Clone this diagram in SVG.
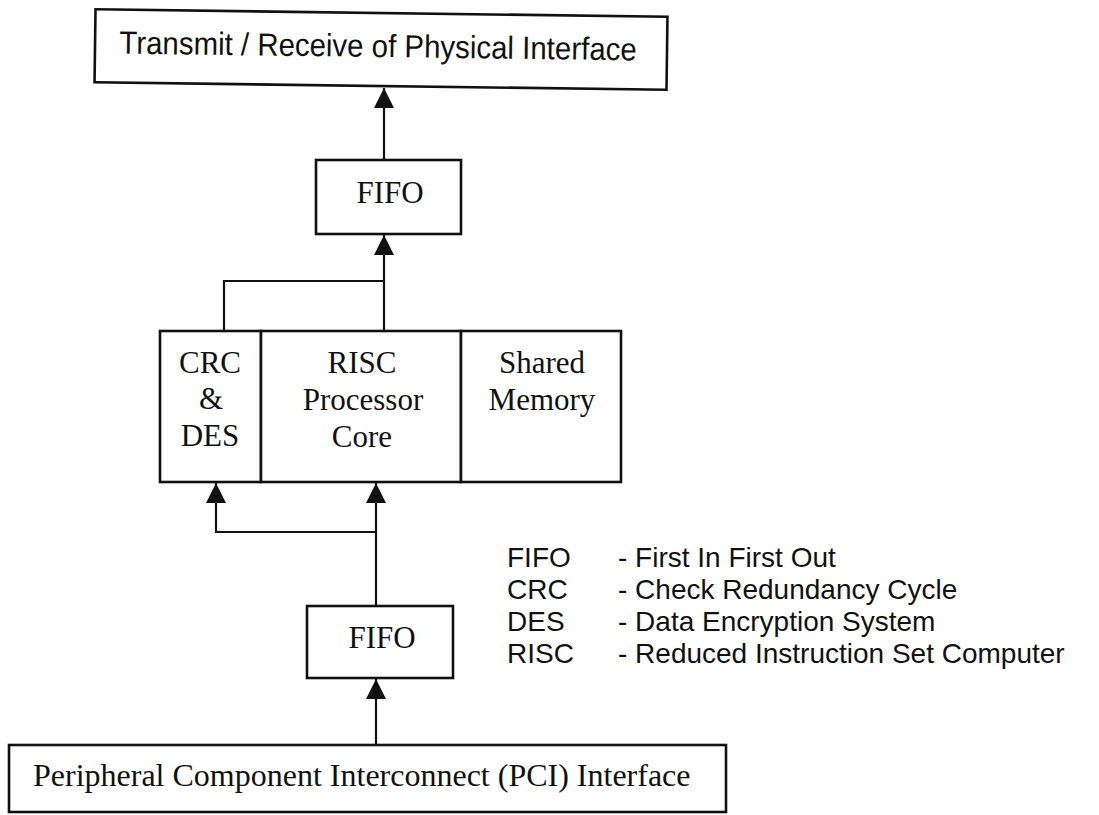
<svg xmlns="http://www.w3.org/2000/svg" width="1099" height="815" viewBox="0 0 1099 815">
<style>
.box{fill:#fff;stroke:#111;stroke-width:2.6}
.ln{fill:none;stroke:#111;stroke-width:2.2}
.serif{font-family:"Liberation Serif","Times New Roman",serif;font-size:31px;fill:#111;text-anchor:middle}
.sans{font-family:"Liberation Sans",Arial,sans-serif;fill:#111}
</style>
<defs>
<marker id="ah" markerUnits="userSpaceOnUse" markerWidth="20" markerHeight="20" viewBox="0 0 20 20" refX="20" refY="10" orient="auto">
<path d="M0,0 L20,10 L0,20 Z" fill="#111"/>
</marker>
</defs>
<rect width="1099" height="815" fill="#fff"/>
<g id="connectors">
<line class="ln" x1="384" y1="160" x2="384" y2="88" marker-end="url(#ah)"/>
<line class="ln" x1="384" y1="330" x2="384" y2="235" marker-end="url(#ah)"/>
<polyline class="ln" points="224,330 224,281 384,281"/>
<line class="ln" x1="376" y1="606" x2="376" y2="483" marker-end="url(#ah)"/>
<polyline class="ln" points="376,532 216,532 216,483" marker-end="url(#ah)"/>
<line class="ln" x1="376" y1="752" x2="376" y2="679" marker-end="url(#ah)"/>
</g>
<g id="top-interface" transform="rotate(0.75 381 50)">
<rect class="box" x="95" y="13" width="572" height="73"/>
<text class="sans" transform="translate(378 57) scale(0.92 1)" x="0" y="0" font-size="32" text-anchor="middle">Transmit / Receive of Physical Interface</text>
</g>
<g id="fifo-top">
<rect class="box" x="316" y="160" width="145" height="74"/>
<text class="serif" x="390" y="203">FIFO</text>
</g>
<g id="crc-des">
<rect class="box" x="160" y="331" width="101" height="151"/>
<text class="serif" x="210" y="373">CRC</text>
<text class="serif" x="211" y="409">&amp;</text>
<text class="serif" x="210" y="446">DES</text>
</g>
<g id="risc-core">
<rect class="box" x="261" y="331" width="200" height="151"/>
<text class="serif" x="362" y="373">RISC</text>
<text class="serif" x="363" y="410">Processor</text>
<text class="serif" x="362" y="447">Core</text>
</g>
<g id="shared-memory">
<rect class="box" x="461" y="331" width="160" height="151"/>
<text class="serif" x="542" y="373">Shared</text>
<text class="serif" x="542" y="410">Memory</text>
</g>
<g id="fifo-bottom">
<rect class="box" x="307" y="606" width="146" height="72"/>
<text class="serif" x="382" y="648">FIFO</text>
</g>
<g id="pci-interface">
<rect class="box" x="9" y="745" width="717" height="67"/>
<text class="serif" x="33" y="786" style="font-size:32px;text-anchor:start">Peripheral Component Interconnect (PCI) Interface</text>
</g>
<g id="legend" class="sans" font-size="28">
<text x="507" y="567">FIFO</text><text x="618" y="567">- First In First Out</text>
<text x="507" y="599">CRC</text><text x="618" y="599">- Check Redundancy Cycle</text>
<text x="507" y="631">DES</text><text x="618" y="631">- Data Encryption System</text>
<text x="507" y="663">RISC</text><text x="618" y="663">- Reduced Instruction Set Computer</text>
</g>
</svg>
